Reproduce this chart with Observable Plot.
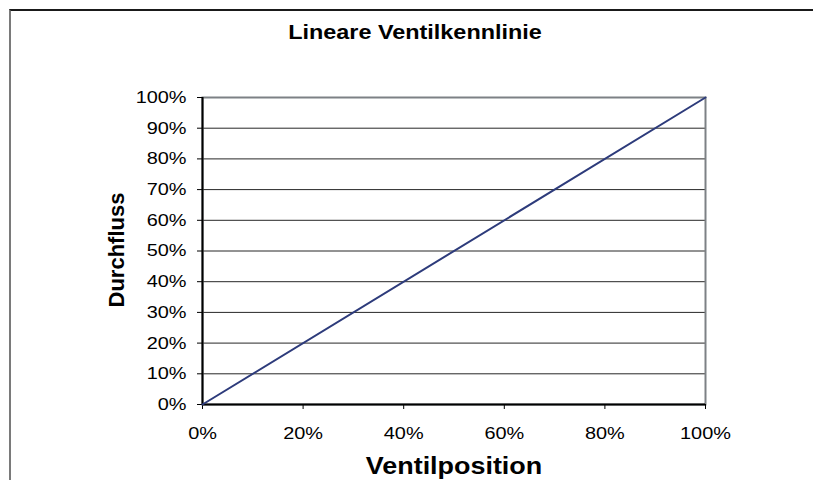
<!DOCTYPE html>
<html><head><meta charset="utf-8">
<script src="https://cdn.jsdelivr.net/npm/d3@7"></script>
<script src="https://cdn.jsdelivr.net/npm/@observablehq/plot@0.6"></script>
<style>
body{margin:0;background:#fff;}
#wrap{position:relative;width:813px;height:480px;overflow:hidden;}
#border{position:absolute;left:9px;top:9px;width:830px;height:500px;border-left:2px solid #7a7a7a;border-top:2px solid #1a1a1a;box-sizing:border-box;}
#chart{position:absolute;left:0;top:0;}
</style></head>
<body><div id="wrap"><div id="border"></div><div id="chart"></div></div>
<script>
const title = "Lineare Ventilkennlinie";
const xLabel = "Ventilposition";
const yLabel = "Durchfluss";
const ventilposition = [0, 100];
const durchfluss = [0, 100];
const xTicks = [0, 20, 40, 60, 80, 100];
const yTicks = [0, 10, 20, 30, 40, 50, 60, 70, 80, 90, 100];

const data = ventilposition.map((x, i) => ({x, y: durchfluss[i]}));
const font = "'Liberation Sans', Arial, Helvetica, sans-serif";

const plot = Plot.plot({
  width: 813, height: 480,
  marginLeft: 202, marginRight: 108, marginTop: 97, marginBottom: 76,
  style: {fontFamily: font, fontSize: "17px", color: "#000", background: "transparent", overflow: "visible"},
  x: {domain: [0, 100], ticks: xTicks, tickFormat: d => d + "%", tickSize: 5, tickPadding: 17, label: null},
  y: {domain: [0, 100], ticks: yTicks, tickFormat: d => d + "%", tickSize: 5, tickPadding: 11, label: null},
  marks: [
    Plot.gridY(yTicks, {stroke: "#000", strokeOpacity: 0.85, strokeWidth: 1}),
    Plot.frame({stroke: "#7d8185", strokeWidth: 2}),
    Plot.ruleX([0], {stroke: "#000", strokeWidth: 2}),
    Plot.ruleY([0], {stroke: "#000", strokeWidth: 2}),
    Plot.axisX({ticks: xTicks, tickFormat: d => d + "%", tickSize: 5, tickPadding: 17, stroke: "#000", label: null, fontSize: 17}),
    Plot.axisY({ticks: yTicks, tickFormat: d => d + "%", tickSize: 5, tickPadding: 11, stroke: "#000", label: null, fontSize: 17}),
    Plot.line(data, {x: "x", y: "y", stroke: "#2d3b7b", strokeWidth: 2}),
    Plot.text([title], {frameAnchor: "top", dx: -39, dy: -65, fontWeight: "bold", fontSize: 20, lineAnchor: "middle"}),
    Plot.text([xLabel], {frameAnchor: "bottom", dx: 0, dy: 62, fontWeight: "bold", fontSize: 23, lineAnchor: "middle"}),
    Plot.text([yLabel], {frameAnchor: "left", dx: -86, dy: -1, rotate: -90, textAnchor: "middle", fontWeight: "bold", fontSize: 22, lineAnchor: "middle"})
  ]
});
document.getElementById("chart").append(plot);
// horizontally widen glyphs to match the reference's stretched rendering (not the rotated label)
d3.select(plot).selectAll("text").each(function() {
  const tr = this.getAttribute("transform") || "";
  if (tr.includes("rotate")) return;
  const len = this.getComputedTextLength();
  if (len > 0) {
    this.setAttribute("textLength", len * 1.17);
    this.setAttribute("lengthAdjust", "spacingAndGlyphs");
  }
});
</script></body></html>
